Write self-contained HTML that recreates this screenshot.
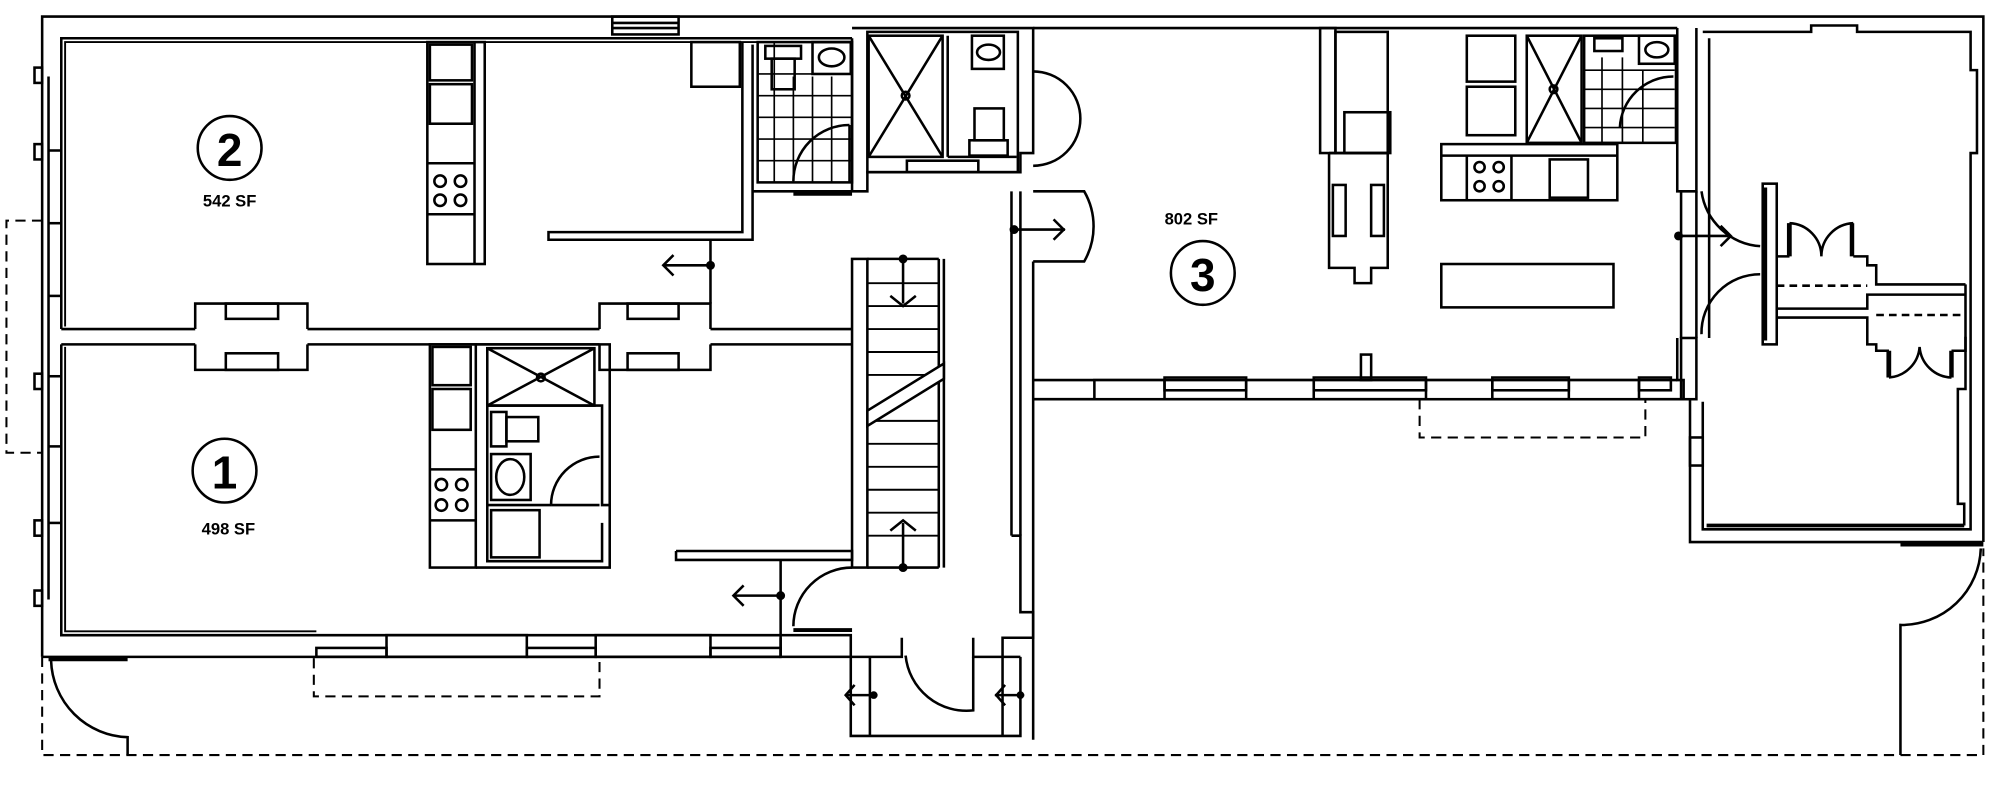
<!DOCTYPE html>
<html><head><meta charset="utf-8"><style>
html,body{margin:0;padding:0;background:#fff;}
svg{display:block;}
text{font-family:"Liberation Sans",sans-serif;font-weight:bold;}
</style></head><body>
<svg width="2000" height="790" viewBox="0 0 1568 619.4" xmlns="http://www.w3.org/2000/svg">
<g fill="none" stroke="#000" stroke-width="2">
<polyline points="33,515 33,13 1555,13 1555,425"/>
<rect x="480" y="13" width="52" height="14"/>
<line x1="480" y1="18" x2="532" y2="18"/><line x1="480" y1="22" x2="532" y2="22"/>
<rect x="27" y="53" width="6" height="12"/><rect x="27" y="113" width="6" height="12"/>
<rect x="27" y="293" width="6" height="12"/><rect x="27" y="408" width="6" height="12"/><rect x="27" y="463" width="6" height="12"/>
<line x1="38" y1="60" x2="38" y2="470"/>
<line x1="38" y1="118" x2="48" y2="118"/><line x1="38" y1="175" x2="48" y2="175"/><line x1="38" y1="232" x2="48" y2="232"/>
<line x1="38" y1="295" x2="48" y2="295"/><line x1="38" y1="350" x2="48" y2="350"/><line x1="38" y1="410" x2="48" y2="410"/>
<polyline points="48,258 48,30 668,30"/>
<polyline points="51,256 51,33 668,33" stroke-width="1.5"/>
<polyline points="582,33 582,182 430,182 430,188 590,188 590,35"/>
<rect x="542" y="33" width="38" height="35"/>
<rect x="335" y="33" width="45" height="174"/>
<line x1="372" y1="33" x2="372" y2="207"/>
<rect x="337" y="35" width="33" height="28"/><rect x="337" y="66" width="33" height="31"/>
<line x1="335" y1="128" x2="372" y2="128"/><line x1="335" y1="168" x2="372" y2="168"/>
<circle cx="345" cy="142" r="4.5"/><circle cx="361" cy="142" r="4.5"/><circle cx="345" cy="157" r="4.5"/><circle cx="361" cy="157" r="4.5"/>
<rect x="594" y="33" width="74" height="110"/>
<g stroke-width="1.3">
<line x1="594" y1="58" x2="668" y2="58"/><line x1="594" y1="75" x2="668" y2="75"/><line x1="594" y1="92" x2="668" y2="92"/><line x1="594" y1="109" x2="668" y2="109"/><line x1="594" y1="126" x2="668" y2="126"/>
<line x1="607" y1="33" x2="607" y2="143"/><line x1="622" y1="60" x2="622" y2="143"/><line x1="637" y1="60" x2="637" y2="143"/><line x1="652" y1="60" x2="652" y2="143"/>
</g>
<rect x="600" y="36" width="28" height="10"/><rect x="605" y="46" width="18" height="24"/>
<rect x="637" y="33" width="30" height="25"/><ellipse cx="652" cy="45" rx="10" ry="7"/>
<path d="M666,98 A44,44 0 0 0 622,142"/><line x1="666" y1="98" x2="666" y2="143"/>
<polyline points="590,150 668,150"/><line x1="622" y1="152" x2="668" y2="152" stroke-width="3"/>
<line x1="48" y1="258" x2="153" y2="258"/><line x1="48" y1="270" x2="153" y2="270"/>
<line x1="241" y1="258" x2="470" y2="258"/><line x1="241" y1="270" x2="470" y2="270"/>
<line x1="557" y1="258" x2="668" y2="258"/><line x1="557" y1="270" x2="668" y2="270"/>
<polyline points="153,258 153,238 241,238 241,258"/><polyline points="153,270 153,290 241,290 241,270"/>
<rect x="177" y="238" width="41" height="12"/><rect x="177" y="277" width="41" height="13"/>
<polyline points="470,258 470,238 557,238 557,258"/><polyline points="470,270 470,290 557,290 557,270"/>
<rect x="492" y="238" width="40" height="12"/><rect x="492" y="277" width="40" height="13"/>
<line x1="557" y1="188" x2="557" y2="238"/>
<line x1="520" y1="208" x2="557" y2="208"/><polyline points="528,200 520,208 528,216"/><circle cx="557" cy="208" r="2.5" fill="#000"/>
<polyline points="48,270 48,498 612,498"/>
<polyline points="51,272 51,495 248,495" stroke-width="1.5"/>
<rect x="337" y="270" width="36" height="175"/>
<rect x="339" y="272" width="30" height="30"/><rect x="339" y="305" width="30" height="32"/>
<line x1="337" y1="368" x2="373" y2="368"/><line x1="337" y1="408" x2="373" y2="408"/>
<circle cx="346" cy="380" r="4.5"/><circle cx="362" cy="380" r="4.5"/><circle cx="346" cy="396" r="4.5"/><circle cx="362" cy="396" r="4.5"/>
<polyline points="373,270 478,270 478,445 373,445"/>
<rect x="382" y="273" width="84" height="45"/><line x1="382" y1="273" x2="466" y2="318"/><line x1="466" y1="273" x2="382" y2="318"/><circle cx="424" cy="296" r="3"/>
<polyline points="382,318 472,318 472,396 478,396"/><polyline points="382,318 382,440 472,440 472,410"/>
<rect x="385" y="323" width="12" height="27"/><rect x="397" y="327" width="25" height="19"/>
<rect x="385" y="356" width="31" height="36"/><ellipse cx="400" cy="374" rx="11" ry="14"/>
<rect x="385" y="400" width="38" height="37"/><line x1="382" y1="396" x2="432" y2="396"/>
<path d="M470,358 A38,38 0 0 0 432,396"/><line x1="432" y1="396" x2="470" y2="396"/>
<polyline points="530,432 668,432 668,439 530,439 530,432"/>
<line x1="612" y1="439" x2="612" y2="498"/>
<line x1="575" y1="467" x2="612" y2="467"/><polyline points="583,459 575,467 583,475"/><circle cx="612" cy="467" r="2.5" fill="#000"/>
<path d="M668,445 A46,46 0 0 0 622,491"/><line x1="622" y1="494" x2="668" y2="494" stroke-width="3"/>
<line x1="33" y1="515" x2="612" y2="515"/>
<rect x="248" y="508" width="55" height="7"/><rect x="303" y="498" width="110" height="17"/><rect x="413" y="508" width="54" height="7"/><rect x="467" y="498" width="90" height="17"/><rect x="557" y="508" width="55" height="7"/>
<rect x="612" y="498" width="55" height="17"/>
<rect x="668" y="203" width="12" height="242"/><line x1="740" y1="203" x2="740" y2="445"/>
<line x1="680" y1="203" x2="736" y2="203"/><line x1="680" y1="445" x2="736" y2="445"/><line x1="736" y1="203" x2="736" y2="445"/>
<g stroke-width="1.5">
<line x1="680" y1="222" x2="736" y2="222"/><line x1="680" y1="240" x2="736" y2="240"/><line x1="680" y1="258" x2="736" y2="258"/><line x1="680" y1="276" x2="736" y2="276"/><line x1="680" y1="294" x2="736" y2="294"/>
<line x1="680" y1="330" x2="736" y2="330"/><line x1="680" y1="348" x2="736" y2="348"/><line x1="680" y1="366" x2="736" y2="366"/><line x1="680" y1="384" x2="736" y2="384"/><line x1="680" y1="402" x2="736" y2="402"/><line x1="680" y1="420" x2="736" y2="420"/>
</g>
<polygon points="680,322 740,285 740,297 680,334" fill="#fff"/>
<line x1="708" y1="203" x2="708" y2="238"/><polyline points="698,232 708,240 718,232"/><circle cx="708" cy="203" r="2.5" fill="#000"/>
<line x1="708" y1="445" x2="708" y2="410"/><polyline points="698,416 708,408 718,416"/><circle cx="708" cy="445" r="2.5" fill="#000"/>
<polyline points="668,30 668,150 680,150 680,135 800,135 800,120 810,120 810,22 668,22"/>
<rect x="680" y="25" width="118" height="110"/>
<rect x="681" y="28" width="58" height="95"/><line x1="681" y1="28" x2="739" y2="123"/><line x1="739" y1="28" x2="681" y2="123"/><circle cx="710" cy="75" r="3"/>
<line x1="743" y1="28" x2="743" y2="123"/><line x1="743" y1="123" x2="797" y2="123"/>
<rect x="762" y="28" width="25" height="26"/><ellipse cx="775" cy="41" rx="9" ry="6"/>
<rect x="764" y="85" width="23" height="25"/><rect x="760" y="110" width="30" height="12"/>
<rect x="711" y="126" width="56" height="9"/>
<path d="M810,56 A37,37 0 0 1 810,130"/>
<line x1="793" y1="150" x2="793" y2="420"/><line x1="800" y1="150" x2="800" y2="420"/>
<path d="M810,150 L850,150 A55,55 0 0 1 850,205 L810,205"/>
<line x1="795" y1="180" x2="835" y2="180"/><polyline points="826,172 834,180 826,188"/><circle cx="795" cy="180" r="2.5" fill="#000"/>
<polyline points="793,420 800,420 800,480 810,480 810,500 786,500 786,515"/>
<line x1="612" y1="500" x2="612" y2="515"/>
<polyline points="667,515 707,515 707,500"/>
<polyline points="763,500 763,515 800,515"/>
<polyline points="667,515 667,577 800,577 800,515"/><line x1="682" y1="515" x2="682" y2="577"/><line x1="786" y1="515" x2="786" y2="577"/>
<path d="M710,515 L710,514 A48,48 0 0 0 763,557 L763,515"/>
<line x1="663" y1="545" x2="688" y2="545"/><polyline points="670,537 663,545 670,553"/><circle cx="685" cy="545" r="2" fill="#000"/>
<line x1="780" y1="545" x2="803" y2="545"/><polyline points="788,537 781,545 788,553"/><circle cx="800" cy="545" r="2" fill="#000"/>
<line x1="810" y1="22" x2="1315" y2="22"/>
<line x1="810" y1="205" x2="810" y2="580"/>
<polyline points="810,298 1315,298"/><line x1="810" y1="313" x2="1320" y2="313"/>
<rect x="858" y="298" width="55" height="15" fill="#fff"/><rect x="977" y="298" width="53" height="15" fill="#fff"/><rect x="1118" y="298" width="52" height="15" fill="#fff"/><rect x="1230" y="298" width="55" height="15" fill="#fff"/>
<rect x="913" y="296" width="64" height="10"/><rect x="1030" y="296" width="88" height="10"/><rect x="1170" y="296" width="60" height="10"/><rect x="1285" y="296" width="25" height="10"/>
<rect x="1067" y="278" width="8" height="20"/>
<rect x="1130" y="207" width="135" height="34"/>
<rect x="1035" y="22" width="12" height="98"/><rect x="1047" y="25" width="41" height="95"/><rect x="1054" y="88" width="36" height="32"/>
<polyline points="1042,120 1042,210 1062,210 1062,222 1075,222 1075,210 1088,210 1088,120 1042,120"/>
<rect x="1045" y="145" width="10" height="40"/><rect x="1075" y="145" width="10" height="40"/>
<rect x="1150" y="28" width="38" height="36"/><rect x="1150" y="68" width="38" height="38"/>
<rect x="1130" y="113" width="138" height="44"/><line x1="1130" y1="122" x2="1268" y2="122"/>
<line x1="1150" y1="122" x2="1150" y2="157"/><line x1="1185" y1="122" x2="1185" y2="157"/><rect x="1215" y="125" width="30" height="30"/>
<circle cx="1160" cy="131" r="4"/><circle cx="1175" cy="131" r="4"/><circle cx="1160" cy="146" r="4"/><circle cx="1175" cy="146" r="4"/>
<rect x="1197" y="28" width="43" height="84"/><line x1="1197" y1="28" x2="1240" y2="112"/><line x1="1240" y1="28" x2="1197" y2="112"/><circle cx="1218" cy="70" r="3"/>
<rect x="1242" y="28" width="72" height="84"/>
<g stroke-width="1.3"><line x1="1242" y1="55" x2="1313" y2="55"/><line x1="1242" y1="70" x2="1313" y2="70"/><line x1="1242" y1="85" x2="1313" y2="85"/><line x1="1242" y1="100" x2="1313" y2="100"/><line x1="1256" y1="45" x2="1256" y2="112"/><line x1="1272" y1="45" x2="1272" y2="112"/><line x1="1288" y1="55" x2="1288" y2="112"/></g>
<rect x="1250" y="30" width="22" height="10"/><rect x="1285" y="28" width="28" height="22"/><ellipse cx="1299" cy="39" rx="9" ry="6"/>
<path d="M1312,60 A42,42 0 0 0 1270,100"/>
<polyline points="1315,22 1315,150 1330,150 1330,22"/>
<polyline points="1315,265 1315,298 1320,298 1320,313"/>
<rect x="1318" y="265" width="12" height="48"/>
<line x1="1318" y1="150" x2="1318" y2="265"/><line x1="1330" y1="150" x2="1330" y2="265"/>
<line x1="1315" y1="185" x2="1355" y2="185"/><polyline points="1349,177 1357,185 1349,193"/><circle cx="1316" cy="185" r="2.5" fill="#000"/>
<path d="M1334,150 A50,50 0 0 0 1380,193"/><path d="M1380,215 A46,46 0 0 0 1334,262"/>
<rect x="1382" y="144" width="11" height="126"/><line x1="1384" y1="147" x2="1384" y2="267" stroke-width="3"/>
<polyline points="1335,25 1420,25 1420,20 1456,20 1456,25 1545,25 1545,55 1550,55 1550,120 1545,120 1545,415 1335,415 1335,315"/>
<polyline points="1340,265 1340,30"/>
<!-- closets -->
<polyline points="1393,201 1402,201 1402,175"/>
<line x1="1403" y1="175" x2="1403" y2="201" stroke-width="3.5"/>
<path d="M1403,175 A26,26 0 0 1 1428,201 A26,26 0 0 1 1453,175"/>
<line x1="1452" y1="175" x2="1452" y2="201" stroke-width="3.5"/>
<polyline points="1453,201 1464,201 1464,208 1471,208 1471,223 1541,223"/>
<line x1="1393" y1="224" x2="1464" y2="224" stroke-dasharray="6,4"/>
<polyline points="1393,242 1464,242 1464,231 1541,231"/>
<polyline points="1393,249 1464,249 1464,270 1471,270 1471,275 1480,275 1480,296"/>
<line x1="1481" y1="275" x2="1481" y2="296" stroke-width="3.5"/>
<path d="M1481,296 A26,26 0 0 0 1505,272 A26,26 0 0 0 1530,296"/>
<line x1="1530" y1="275" x2="1530" y2="296" stroke-width="3.5"/>
<polyline points="1530,275 1541,275 1541,264"/>
<line x1="1471" y1="247" x2="1541" y2="247" stroke-dasharray="6,4"/>
<polyline points="1541,223 1541,305 1535,305 1535,395 1540,395 1540,412"/>
<line x1="1338" y1="412" x2="1540" y2="412" stroke-width="3"/>
<polyline points="1325,313 1325,425 1555,425"/>
<rect x="1325" y="343" width="10" height="22"/>
<line x1="1490" y1="427" x2="1555" y2="427" stroke-width="3"/>
<path d="M1553,430 A62,62 0 0 1 1490,490 L1490,592"/>
<line x1="38" y1="517" x2="100" y2="517" stroke-width="3"/>
<path d="M40,518 A62,62 0 0 0 100,578 L100,592"/>
</g>
<g fill="none" stroke="#000" stroke-width="1.6" stroke-dasharray="8,5">
<polyline points="33,515 33,592 1555,592 1555,430"/>
<polyline points="33,173 5,173 5,355 33,355"/>
<polyline points="246,516 246,546 470,546 470,516"/>
<polyline points="1113,313 1113,343 1290,343 1290,313"/>
</g>
<g fill="none" stroke="#000" stroke-width="2">
<circle cx="180" cy="116" r="25"/><circle cx="176" cy="369" r="25"/><circle cx="943" cy="214" r="25"/>
</g>
<g font-size="36" text-anchor="middle" fill="#000">
<text x="180" y="130" font-weight="bold">2</text>
<text x="176" y="383" font-weight="normal">1</text>
<text x="943" y="228">3</text>
</g>
<g font-size="13" text-anchor="middle" fill="#000">
<text x="180" y="162">542 SF</text>
<text x="179" y="419">498 SF</text>
<text x="934" y="176">802 SF</text>
</g>
</svg>
</body></html>
